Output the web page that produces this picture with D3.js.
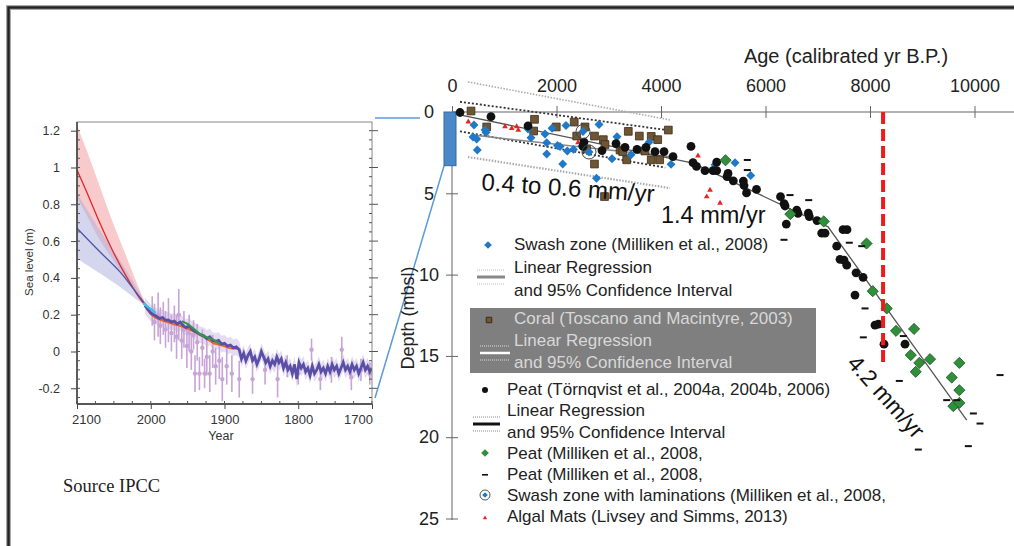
<!DOCTYPE html>
<html>
<head>
<meta charset="utf-8">
<script src="https://cdn.jsdelivr.net/npm/d3@7/dist/d3.min.js"></script>
<style>
  body { margin: 0; background: #fff; }
  svg { display: block; font-family: "Liberation Sans", Arial, sans-serif; }
</style>
</head>
<body>
<svg id="chart" width="1014" height="546"></svg>
<script>
// ---------- left inset (IPCC) data ----------
const leftXTicks = [2100, 2000, 1900, 1800, 1700];
const leftYTicks = [1.2, 1, 0.8, 0.6, 0.4, 0.2, 0, -0.2];

// [year, low, high]
const redBand = [[2100, 0.834, 1.23], [2087, 0.742, 1.095], [2069, 0.606, 0.896], [2051, 0.497, 0.697],
  [2033, 0.389, 0.515], [2015, 0.298, 0.334], [2006, 0.245, 0.25]];
const blueBand = [[2100, 0.506, 0.86], [2069, 0.425, 0.66], [2042, 0.352, 0.497], [2015, 0.27, 0.318], [2006, 0.245, 0.25]];
// [year, value]
const redProj = [[2100, 0.986], [2087, 0.868], [2069, 0.698], [2051, 0.542], [2033, 0.407], [2015, 0.289], [2006, 0.245]];
const blueProj = [[2100, 0.67], [2069, 0.542], [2042, 0.434], [2024, 0.343], [2006, 0.25]];
const cyanSeries = [[2010, 0.262], [2003, 0.24], [1993, 0.21]];
const orangeSeries = [[2006, 0.235], [1999, 0.2], [1992, 0.18], [1985, 0.17], [1978, 0.16], [1969, 0.149], [1960, 0.14],
  [1951, 0.126], [1942, 0.11], [1933, 0.09], [1924, 0.07], [1915, 0.045], [1905, 0.035], [1892, 0.017], [1881, 0.015]];
const greenSeries = [[1958, 0.165], [1950, 0.15], [1942, 0.125], [1935, 0.1], [1929, 0.085], [1922, 0.075], [1915, 0.065], [1906, 0.04]];
const historical = [[2008, 0.25], [2004, 0.23], [2000, 0.21], [1996, 0.2], [1992, 0.19], [1988, 0.18], [1984, 0.185],
  [1980, 0.17], [1976, 0.17], [1972, 0.16], [1968, 0.165], [1964, 0.15], [1960, 0.16], [1956, 0.14], [1952, 0.13],
  [1948, 0.14], [1944, 0.12], [1940, 0.11], [1936, 0.1], [1932, 0.09], [1928, 0.085], [1924, 0.07], [1920, 0.08],
  [1916, 0.06], [1912, 0.055], [1908, 0.06], [1904, 0.04], [1900, 0.045], [1896, 0.03], [1892, 0.035], [1888, 0.02],
  [1884, 0.025], [1880, 0.01], [1877, -0.04], [1874, -0.01], [1871, -0.05], [1868, -0.02], [1865, 0.0], [1862, -0.05],
  [1859, -0.03], [1856, -0.07], [1853, -0.04], [1850, 0.0], [1847, -0.03], [1844, -0.06], [1841, -0.04], [1838, -0.08],
  [1835, -0.05], [1832, -0.07], [1829, -0.03], [1826, -0.06], [1823, -0.04], [1820, -0.09], [1817, -0.06], [1814, -0.1],
  [1811, -0.08], [1808, -0.12], [1805, -0.07], [1802, -0.15], [1799, -0.06], [1796, -0.09], [1793, -0.07], [1790, -0.11],
  [1787, -0.09], [1784, -0.13], [1781, -0.08], [1778, -0.12], [1775, -0.1], [1772, -0.07], [1769, -0.11], [1766, -0.09],
  [1763, -0.12], [1760, -0.08], [1757, -0.11], [1754, -0.07], [1751, -0.1], [1748, -0.08], [1745, -0.12], [1742, -0.09],
  [1739, -0.06], [1736, -0.1], [1733, -0.08], [1730, -0.11], [1727, -0.07], [1724, -0.1], [1721, -0.08], [1718, -0.12],
  [1715, -0.09], [1712, -0.06], [1709, -0.1], [1706, -0.08], [1703, -0.11], [1700, -0.09]];
// [year, value, error]
const obsPoints = [[1998, 0.22, 0.08], [1995, 0.16, 0.1], [1990, 0.2, 0.12], [1987, 0.14, 0.1], [1983, 0.18, 0.09],
  [1980, 0.12, 0.1], [1976, 0.17, 0.12], [1972, 0.1, 0.1], [1968, 0.15, 0.1], [1965, 0.08, 0.12], [1962, 0.2, 0.14],
  [1958, 0.06, 0.1], [1955, 0.12, 0.1], [1951, 0.03, 0.12], [1948, 0.1, 0.1], [1945, 0.0, 0.1], [1942, 0.09, 0.08],
  [1940, -0.12, 0.1], [1937, 0.05, 0.1], [1934, -0.12, 0.09], [1930, 0.02, 0.1], [1927, -0.12, 0.08], [1924, -0.03, 0.1],
  [1920, -0.12, 0.1], [1916, 0.0, 0.09], [1912, -0.08, 0.1], [1907, -0.05, 0.1], [1903, -0.15, 0.12], [1897, -0.08, 0.1],
  [1890, -0.12, 0.1], [1880, -0.15, 0.1], [1862, -0.15, 0.08], [1845, -0.1, 0.08], [1828, -0.15, 0.1], [1815, -0.08, 0.06],
  [1800, -0.12, 0.06], [1782, 0.01, 0.06], [1770, -0.15, 0.06], [1755, -0.1, 0.07], [1741, 0.01, 0.07], [1728, -0.14, 0.07],
  [1715, -0.1, 0.06], [1703, -0.12, 0.06]];

// ---------- right chart data: [age (cal yr BP), depth (m)] ----------
const ageTicks = [0, 2000, 4000, 6000, 8000, 10000];
const depthTicks = [0, 5, 10, 15, 20, 25];

const swashZone = [[421, 0.8], [402, 1.54], [473, 1.66], [484, 2.34], [632, 1.11], [651, 1.26], [1455, 1.05], [1512, 1.58],
  [1780, 1.35], [1813, 1.89], [1813, 2.58], [1914, 1.0], [2019, 2.06], [2067, 2.12], [2119, 3.2], [2182, 0.83], [2207, 2.4],
  [2325, 2.3], [2488, 2.09], [2766, 4.08], [2814, 0.77], [3062, 2.87], [3158, 1.52], [3426, 2.63], [3771, 1.86], [4192, 3.22],
  [5034, 3.24], [5417, 3.12], [5717, 3.9]];
const swashLaminations = [[2507, 1.2], [2622, 2.46]];
const coral = [[364, -0.06], [664, 0.92], [1579, 0.45], [1563, 1.17], [1996, 0.92], [2339, 0.62], [2546, 0.92], [2387, 1.48],
  [2727, 1.48], [2896, 1.7], [2928, 2.0], [2578, 2.28], [2727, 3.2], [3216, 2.34], [3267, 2.44], [3374, 1.19], [3585, 1.48],
  [3813, 1.5], [3937, 1.7], [3344, 2.94], [3813, 2.94], [3975, 2.94], [4140, 1.11], [2919, 5.2], [3694, 2.4]];
const peatTornqvist = [[153, 0.03], [746, 0.29], [1455, 0.86], [2526, 1.85], [2507, 2.12], [2871, 2.37], [3139, 1.94],
  [3311, 2.17], [3541, 2.3], [3713, 2.17], [3885, 2.44], [4058, 2.44], [4230, 2.75], [4574, 2.12], [4613, 3.12], [4680, 3.35],
  [4842, 3.6], [4995, 3.6], [5066, 3.08], [5066, 3.6], [5283, 3.78], [5264, 3.97], [5384, 4.23], [5576, 4.25], [5589, 4.52],
  [5637, 4.98], [5828, 4.76], [6287, 5.21], [6355, 5.63], [6374, 5.78], [6598, 6.03], [6622, 6.23], [6820, 6.22], [6839, 6.44],
  [6986, 6.68], [6398, 6.89], [7076, 7.45], [7139, 7.45], [7484, 7.24], [7560, 7.24], [7363, 8.25], [7426, 9.06], [7503, 9.11],
  [7555, 9.42], [7733, 9.89], [7867, 10.17], [7713, 11.26], [8096, 13.11], [8160, 13.05], [8268, 14.28], [8670, 14.28]];
const peatMillikenGreen = [[5235, 2.97], [6475, 6.28], [7114, 6.73], [7934, 8.09], [8052, 11.02], [8320, 12.08], [8498, 13.46],
  [8843, 13.34], [8780, 14.95], [8944, 15.43], [9149, 15.2], [8875, 15.98], [9710, 15.43], [9564, 16.33], [9710, 17.11],
  [9595, 18.09], [9710, 17.89]];
const peatMillikenDash = [[5652, 2.95], [5652, 3.57], [6469, 5.11], [6827, 5.42], [6354, 7.86], [7604, 8.04], [7842, 8.25],
  [7905, 12.08], [7872, 13.86], [8638, 13.78], [8561, 16.54], [9660, 17.72], [9468, 17.72], [9978, 18.54], [10106, 19.16],
  [10489, 16.18], [8925, 20.76], [9882, 20.55]];
const algalMats = [[312, 0.6], [1014, 0.9], [1143, 1.0], [1238, 0.9], [1269, 1.11], [2412, 1.88], [4708, 2.69], [4938, 4.8],
  [4875, 5.21], [5130, 5.6]];

const peatRegression = [[150, 0.18], [4613, 3.14], [7197, 7.06], [9851, 18.95]];
const peatCIUpper = [[153, -0.63], [4109, 1.11]];
const peatCILower = [[153, 1.19], [4080, 3.42]];
const swashRegression = [[402, 1.42], [4230, 2.77]];
const swashCIUpper = [[306, -1.85], [4173, 0.49]];
const swashCILower = [[306, 2.77], [4173, 4.68]];
const event82ka = 8250;

const legendItems = [
  'Swash zone (Milliken et al., 2008)', 'Linear Regression', 'and 95% Confidence Interval',
  'Coral (Toscano and Macintyre, 2003)', 'Linear Regression', 'and 95% Confidence Interval',
  'Peat (Törnqvist et al., 2004a, 2004b, 2006)', 'Linear Regression', 'and 95% Confidence Interval',
  'Peat (Milliken et al., 2008,', 'Peat (Milliken et al., 2008,',
  'Swash zone with laminations (Milliken et al., 2008,', 'Algal Mats (Livsey and Simms, 2013)'];

const svg = d3.select('#chart');

// outer frame
svg.append('path').attr('d', 'M8.5,546V7.5H1014').attr('fill', 'none').attr('stroke', '#aaa').attr('stroke-width', 5);
svg.append('path').attr('d', 'M8.5,546V7.5H1014').attr('fill', 'none').attr('stroke', '#222').attr('stroke-width', 2.5);

// ================= left inset =================
const L = { left: 77, right: 372, top: 122, bottom: 404 };
const lx = d3.scaleLinear().domain([2100, 1700]).range([L.left, L.right]);
const ly = d3.scaleLinear().domain([1.2, -0.2]).range([130.7, 388.3]);

svg.append('clipPath').attr('id', 'lclip').append('rect')
  .attr('x', L.left).attr('y', L.top).attr('width', L.right - L.left).attr('height', L.bottom - L.top);
const lg = svg.append('g').attr('clip-path', 'url(#lclip)');

const band = d3.area().x(d => lx(d[0])).y0(d => ly(d[1])).y1(d => ly(d[2])).curve(d3.curveCatmullRom);
const line = d3.line().x(d => lx(d[0])).y(d => ly(d[1]));

lg.append('path').datum(redBand).attr('d', band).attr('fill', '#f4a6a8').attr('opacity', 0.6);
lg.append('path').datum(blueBand).attr('d', band).attr('fill', '#a9aedb').attr('opacity', 0.5);

// lavender uncertainty around the reconstruction
lg.append('path').datum(historical)
  .attr('d', d3.area().x(d => lx(d[0])).y0(d => ly(d[1] - 0.045)).y1(d => ly(d[1] + 0.045)))
  .attr('fill', '#d9cdea').attr('opacity', 0.7);

const obs = lg.append('g').attr('stroke', '#c7a3d6').attr('fill', '#c7a3d6');
obs.selectAll('line').data(obsPoints).join('line')
  .attr('x1', d => lx(d[0])).attr('x2', d => lx(d[0]))
  .attr('y1', d => ly(d[1] - d[2])).attr('y2', d => ly(d[1] + d[2])).attr('stroke-width', 1.6);
obs.selectAll('circle').data(obsPoints).join('circle')
  .attr('cx', d => lx(d[0])).attr('cy', d => ly(d[1])).attr('r', 2.2).attr('stroke', 'none');

lg.append('path').datum(redProj).attr('d', line.curve(d3.curveCatmullRom)).attr('fill', 'none')
  .attr('stroke', '#e3262c').attr('stroke-width', 1.3);
lg.append('path').datum(blueProj).attr('d', line.curve(d3.curveCatmullRom)).attr('fill', 'none')
  .attr('stroke', '#4e56a8').attr('stroke-width', 1.3);
line.curve(d3.curveLinear);
lg.append('path').datum(orangeSeries).attr('d', line).attr('fill', 'none').attr('stroke', '#f0641e').attr('stroke-width', 2);
lg.append('path').datum(historical).attr('d', line).attr('fill', 'none').attr('stroke', '#5a4fa6').attr('stroke-width', 2.8);
lg.append('path').datum(greenSeries).attr('d', line).attr('fill', 'none').attr('stroke', '#2e9a48').attr('stroke-width', 2);
lg.append('path').datum(cyanSeries).attr('d', line).attr('fill', 'none').attr('stroke', '#3fc0e8').attr('stroke-width', 2.4);

// frame and axes of the inset
svg.append('rect').attr('x', L.left).attr('y', L.top).attr('width', L.right - L.left).attr('height', L.bottom - L.top)
  .attr('fill', 'none').attr('stroke', '#888').attr('stroke-width', 1);
svg.append('line').attr('x1', L.left).attr('x2', L.left).attr('y1', L.top).attr('y2', L.bottom)
  .attr('stroke', '#333').attr('stroke-width', 1.4);
svg.append('line').attr('x1', L.left).attr('x2', L.right).attr('y1', L.bottom).attr('y2', L.bottom)
  .attr('stroke', '#333').attr('stroke-width', 1.4);

const minorY = d3.range(-0.25, 1.26, 0.05);
const minorX = d3.range(1700, 2101, 25);
const tickG = svg.append('g').attr('stroke', '#555').attr('stroke-width', 1);
tickG.selectAll('.ml').data(minorY).join('line').attr('x1', L.left).attr('x2', L.left + 3)
  .attr('y1', d => ly(d)).attr('y2', d => ly(d)).filter(d => ly(d) < L.top || ly(d) > L.bottom).remove();
tickG.selectAll('.mr').data(minorY).join('line').attr('class', 'mr').attr('x1', L.right - 3).attr('x2', L.right)
  .attr('y1', d => ly(d)).attr('y2', d => ly(d)).filter(d => ly(d) < L.top || ly(d) > L.bottom).remove();
tickG.selectAll('.mb').data(minorX).join('line').attr('class', 'mb').attr('y1', L.bottom - 3).attr('y2', L.bottom)
  .attr('x1', d => lx(d)).attr('x2', d => lx(d));
tickG.selectAll('.Mr').data(leftYTicks).join('line').attr('class', 'Mr').attr('x1', L.right).attr('x2', L.right + 6)
  .attr('y1', d => ly(d)).attr('y2', d => ly(d));

const ly_axis = svg.append('g').attr('transform', `translate(${L.left},0)`)
  .call(d3.axisLeft(ly).tickValues(leftYTicks).tickFormat(d => String(d)).tickSize(6).tickPadding(11));
ly_axis.select('.domain').remove();
ly_axis.selectAll('text').attr('font-size', 12.5).attr('fill', '#333');
ly_axis.selectAll('line').attr('stroke', '#444');

const lx_axis = svg.append('g').attr('transform', `translate(0,${L.bottom})`)
  .call(d3.axisBottom(lx).tickValues(leftXTicks).tickFormat(d => String(d)).tickSize(5).tickPadding(6));
lx_axis.select('.domain').remove();
lx_axis.selectAll('text').attr('font-size', 13).attr('fill', '#333')
  .attr('dx', (d, i) => i === 0 ? 9 : (i === leftXTicks.length - 1 ? -14 : 0));
lx_axis.selectAll('line').attr('stroke', '#444');

svg.append('text').attr('x', 221).attr('y', 440).attr('text-anchor', 'middle')
  .attr('font-size', 12.5).attr('fill', '#333').text('Year');
svg.append('text').attr('transform', 'translate(33,262) rotate(-90)').attr('text-anchor', 'middle')
  .attr('font-size', 11.5).attr('fill', '#333').text('Sea level (m)');

svg.append('text').attr('x', 63).attr('y', 492).attr('font-family', '"Liberation Serif", "Times New Roman", serif')
  .attr('font-size', 18.5).attr('fill', '#222').text('Source IPCC');

// ================= right chart =================
const x = d3.scaleLinear().domain([0, 10000]).range([452, 974.5]);
const y = d3.scaleLinear().domain([0, 25]).range([112, 518.5]);

// connector from inset to the blue box
svg.append('path').attr('d', 'M375,118H420').attr('stroke', '#5b9bd5').attr('stroke-width', 1.5).attr('fill', 'none');
svg.append('path').attr('d', 'M444,166L375,398').attr('stroke', '#5b9bd5').attr('stroke-width', 1.5).attr('fill', 'none');

// axes
svg.append('line').attr('x1', x(0)).attr('x2', 1014).attr('y1', y(0)).attr('y2', y(0))
  .attr('stroke', '#999').attr('stroke-width', 1.5);
svg.append('line').attr('x1', x(0)).attr('x2', x(0)).attr('y1', y(0)).attr('y2', 520)
  .attr('stroke', '#999').attr('stroke-width', 1.5);

const topAxis = svg.append('g').attr('transform', `translate(0,${y(0)})`)
  .call(d3.axisTop(x).tickValues(ageTicks).tickFormat(d => String(d)).tickSize(6));
topAxis.select('.domain').remove();
topAxis.selectAll('.tick line').attr('y1', -6).attr('y2', 6).attr('stroke', '#666');
topAxis.selectAll('.tick text').attr('y', -20).attr('font-size', 18).attr('fill', '#222');

const leftAxis = svg.append('g').attr('transform', `translate(${x(0)},0)`)
  .call(d3.axisLeft(y).tickValues(depthTicks).tickFormat(d => String(d)).tickSize(6));
leftAxis.select('.domain').remove();
leftAxis.selectAll('.tick line').attr('x1', -6).attr('x2', 6).attr('stroke', '#666');
leftAxis.selectAll('.tick text').attr('x', -23).attr('text-anchor', 'middle').attr('font-size', 18).attr('fill', '#222');

svg.append('text').attr('x', 846).attr('y', 63).attr('text-anchor', 'middle')
  .attr('font-size', 20).attr('fill', '#222').text('Age (calibrated yr B.P.)');
svg.append('text').attr('transform', 'translate(414,318) rotate(-90)').attr('text-anchor', 'middle')
  .attr('font-size', 18).attr('fill', '#222').text('Depth (mbsl)');

// IPCC window box
svg.append('rect').attr('x', 444).attr('y', y(0)).attr('width', 12).attr('height', y(3.3) - y(0))
  .attr('fill', '#4a88c8').attr('stroke', '#2f6aa6').attr('stroke-width', 1);

// regression and confidence lines
const pl = d3.line().x(d => x(d[0])).y(d => y(d[1]));
svg.append('path').datum(swashCIUpper).attr('d', pl).attr('stroke', '#aaa').attr('stroke-width', 1.6)
  .attr('stroke-dasharray', '1.5,1.5').attr('fill', 'none');
svg.append('path').datum(swashCILower).attr('d', pl).attr('stroke', '#aaa').attr('stroke-width', 2.2)
  .attr('stroke-dasharray', '1.5,1.5').attr('fill', 'none');
svg.append('path').datum(peatCIUpper).attr('d', pl).attr('stroke', '#333').attr('stroke-width', 1.8)
  .attr('stroke-dasharray', '2,2').attr('fill', 'none');
svg.append('path').datum(peatCILower).attr('d', pl).attr('stroke', '#333').attr('stroke-width', 1.8)
  .attr('stroke-dasharray', '2,2').attr('fill', 'none');
svg.append('path').datum(swashRegression).attr('d', pl).attr('stroke', '#888').attr('stroke-width', 1.5).attr('fill', 'none');
svg.append('path').datum(peatRegression).attr('d', pl).attr('stroke', '#555').attr('stroke-width', 1.3).attr('fill', 'none');

// symbols
const sq = (s) => d3.symbol(d3.symbolSquare, s)();
const tri = d3.symbol(d3.symbolTriangle, 14)();
const pos = d => `translate(${x(d[0])},${y(d[1])})`;

svg.append('g').selectAll('path').data(algalMats).join('path').attr('d', tri)
  .attr('transform', pos).attr('fill', '#f02020');
svg.append('g').selectAll('path').data(coral).join('path').attr('d', sq(60))
  .attr('transform', pos).attr('fill', '#6e5634').attr('stroke', '#3a2c18').attr('stroke-width', 0.8);
svg.append('g').selectAll('path').data(swashZone).join('path').attr('d', sq(40))
  .attr('transform', d => pos(d) + ' rotate(45)').attr('fill', '#1f78c8');
svg.append('g').selectAll('circle').data(peatTornqvist).join('circle')
  .attr('cx', d => x(d[0])).attr('cy', d => y(d[1])).attr('r', 4.4).attr('fill', '#111');
const lam = svg.append('g').selectAll('g').data(swashLaminations).join('g').attr('transform', pos);
lam.append('circle').attr('r', 7).attr('fill', 'none').attr('stroke', '#444').attr('stroke-width', 1);
lam.append('path').attr('d', sq(40)).attr('transform', 'rotate(45)').attr('fill', '#1f78c8');
svg.append('g').selectAll('path').data(peatMillikenGreen).join('path').attr('d', sq(62))
  .attr('transform', d => pos(d) + ' rotate(45)').attr('fill', '#2f8f3a').attr('stroke', '#1d5a24').attr('stroke-width', 0.8);
svg.append('g').selectAll('rect').data(peatMillikenDash).join('rect')
  .attr('x', d => x(d[0]) - 3.5).attr('y', d => y(d[1]) - 1).attr('width', 7).attr('height', 2).attr('fill', '#111');

// 8.2 ka event
svg.append('line').attr('x1', x(event82ka)).attr('x2', x(event82ka)).attr('y1', y(0)).attr('y2', 366)
  .attr('stroke', '#ee1c1c').attr('stroke-width', 4).attr('stroke-dasharray', '12,5');

// rate annotations
svg.append('text').attr('transform', 'translate(481,190) rotate(4)').attr('font-size', 24).attr('fill', '#111')
  .text('0.4 to 0.6 mm/yr');
svg.append('text').attr('transform', 'translate(661,223)').attr('font-size', 23.5).attr('fill', '#111').text('1.4 mm/yr');
svg.append('text').attr('transform', 'translate(846,364) rotate(48)').attr('font-size', 23).attr('fill', '#111')
  .text('4.2 mm/yr');

// legend
const lgd = svg.append('g').attr('font-size', 17);
lgd.append('rect').attr('x', 470).attr('y', 308).attr('width', 346).attr('height', 65).attr('fill', '#7f7f7f');

const rows = [
  { x: 514, y: 250, c: '#222' }, { x: 514, y: 273, c: '#222' }, { x: 514, y: 296, c: '#222' },
  { x: 514, y: 324, c: '#d8d8d8' }, { x: 514, y: 346, c: '#d8d8d8' }, { x: 514, y: 368, c: '#d8d8d8' },
  { x: 507, y: 395, c: '#222' }, { x: 507, y: 416, c: '#222' }, { x: 507, y: 438, c: '#222' },
  { x: 507, y: 459, c: '#222' }, { x: 507, y: 480, c: '#222' }, { x: 507, y: 501, c: '#222' }, { x: 507, y: 522, c: '#222' }];
lgd.selectAll('text').data(legendItems).join('text')
  .attr('x', (d, i) => rows[i].x).attr('y', (d, i) => rows[i].y).attr('fill', (d, i) => rows[i].c).text(d => d);

// legend symbols
lgd.append('path').attr('d', sq(30)).attr('transform', 'translate(488,245) rotate(45)').attr('fill', '#1f78c8');
function regSymbol(x0, x1, yc, main, mainW, dotC) {
  lgd.append('line').attr('x1', x0).attr('x2', x1).attr('y1', yc).attr('y2', yc).attr('stroke', main).attr('stroke-width', mainW);
  [-7, 7].forEach(o => lgd.append('line').attr('x1', x0).attr('x2', x1).attr('y1', yc + o).attr('y2', yc + o)
    .attr('stroke', dotC).attr('stroke-width', 1).attr('stroke-dasharray', '1,1'));
}
regSymbol(477, 505, 277, '#888', 3, '#bbb');
lgd.append('path').attr('d', sq(30)).attr('transform', 'translate(489,320)').attr('fill', '#6e5634').attr('stroke', '#3a2c18');
regSymbol(480, 510, 353, '#fff', 2.5, '#ddd');
lgd.append('circle').attr('cx', 485).attr('cy', 390).attr('r', 3).attr('fill', '#111');
regSymbol(473, 500, 424, '#111', 3, '#888');
lgd.append('path').attr('d', sq(30)).attr('transform', 'translate(485,453) rotate(45)').attr('fill', '#2f8f3a');
lgd.append('rect').attr('x', 482).attr('y', 474).attr('width', 6).attr('height', 1.6).attr('fill', '#111');
lgd.append('circle').attr('cx', 485).attr('cy', 495).attr('r', 5).attr('fill', 'none').attr('stroke', '#555');
lgd.append('path').attr('d', sq(16)).attr('transform', 'translate(485,495) rotate(45)').attr('fill', '#1f78c8');
lgd.append('path').attr('d', d3.symbol(d3.symbolTriangle, 8)()).attr('transform', 'translate(485,518)').attr('fill', '#f02020');
</script>
</body>
</html>
